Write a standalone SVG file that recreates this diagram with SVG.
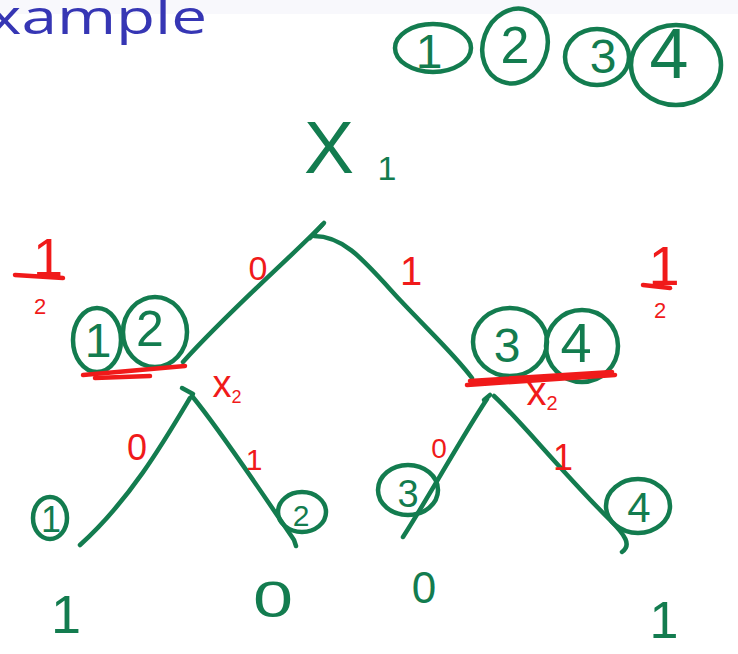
<svg xmlns="http://www.w3.org/2000/svg" width="738" height="654" viewBox="0 0 738 654">
<style>
.g{fill:none;stroke:#137c4f;stroke-width:4.5;stroke-linecap:round;stroke-linejoin:round}
.r{fill:none;stroke:#f01a1a;stroke-width:4.5;stroke-linecap:round}
.gt{fill:#137c4f;font-family:"Liberation Sans",Arial,sans-serif;text-anchor:middle}
.rt{fill:#f01a1a;font-family:"Liberation Sans",Arial,sans-serif;text-anchor:middle}
</style>
<rect width="738" height="654" fill="#ffffff"/>
<rect width="738" height="14" fill="#f8f8fc"/>
<text x="-12" y="34" font-family="'Open Sans',sans-serif" font-size="48" fill="#3636b4" textLength="219" lengthAdjust="spacingAndGlyphs">xample</text>

<g id="legend">
  <ellipse class="g" cx="433" cy="48" rx="38" ry="24"/>
  <text class="gt" x="429" y="68" font-size="48">1</text>
  <ellipse class="g" cx="515" cy="46" rx="32" ry="38" transform="rotate(20 515 46)"/>
  <text class="gt" x="515" y="63" font-size="52">2</text>
  <ellipse class="g" cx="597" cy="57" rx="32" ry="28"/>
  <text class="gt" x="603" y="73" font-size="48">3</text>
  <ellipse class="g" cx="676" cy="65" rx="45" ry="40"/>
  <text class="gt" x="669" y="78" font-size="70">4</text>
</g>

<g id="connectors">
  <path class="g" d="M310,238 L324,223"/>
  <path class="g" d="M322,225 C290,258 230,310 183,362"/>
  <path class="g" d="M314,236 C345,236 365,262 400,300 C430,332 455,355 472,378"/>
  <path class="g" d="M182,388 L193,394"/>
  <path class="g" d="M190,398 C165,440 130,500 80,545"/>
  <path class="g" d="M192,396 C220,430 260,490 294,540 L296,546"/>
  <path class="g" d="M484,400 L490,395"/>
  <path class="g" d="M487,399 C460,440 430,495 403,537"/>
  <path class="g" d="M494,396 C520,420 560,470 610,520 C625,535 632,545 622,552"/>
</g>

<g id="edge-labels">
  <text class="rt" x="258" y="280" font-size="34">0</text>
  <text class="rt" x="411" y="285" font-size="40">1</text>
  <text class="rt" x="137" y="460" font-size="36">0</text>
  <text class="rt" x="254" y="470" font-size="30">1</text>
  <text class="rt" x="439" y="458" font-size="28">0</text>
  <text class="rt" x="563" y="470" font-size="36">1</text>
</g>

<g id="node-root">
  <text class="gt" x="329" y="173" font-size="75">X</text>
  <text class="gt" x="387" y="180" font-size="34">1</text>
</g>

<g id="node-left">
  <text class="rt" x="48" y="276" font-size="54">1</text>
  <path class="r" d="M15,275 L63,278"/>
  <text class="rt" x="40" y="314" font-size="22">2</text>
  <ellipse class="g" cx="97" cy="340" rx="24" ry="32"/>
  <text class="gt" x="98" y="357" font-size="48">1</text>
  <ellipse class="g" cx="155" cy="332" rx="32" ry="35"/>
  <text class="gt" x="150" y="346" font-size="50">2</text>
  <path class="r" d="M83,375 L185,366"/>
  <path class="r" d="M95,378 L150,376"/>
  <text class="rt" x="227" y="397" font-size="38">x<tspan font-size="18" dy="6">2</tspan></text>
</g>

<g id="node-right">
  <text class="rt" x="664" y="285" font-size="56">1</text>
  <path class="r" d="M643,285 L670,288"/>
  <text class="rt" x="660" y="318" font-size="22">2</text>
  <ellipse class="g" cx="510" cy="342" rx="37" ry="34"/>
  <text class="gt" x="507" y="362" font-size="48">3</text>
  <ellipse class="g" cx="582" cy="346" rx="36" ry="36"/>
  <text class="gt" x="576" y="362" font-size="56">4</text>
  <path class="r" d="M467,385 L615,375"/>
  <path class="r" d="M470,381 L612,372"/>
  <text class="rt" x="542" y="405" font-size="40">x<tspan font-size="20" dy="5">2</tspan></text>
</g>

<g id="leaf-1">
  <ellipse class="g" cx="50" cy="518" rx="17" ry="21"/>
  <text class="gt" x="51" y="532" font-size="36">1</text>
  <text class="gt" x="66" y="633" font-size="54">1</text>
</g>
<g id="leaf-2">
  <ellipse class="g" cx="302" cy="512" rx="24" ry="20"/>
  <text class="gt" x="301" y="526" font-size="30">2</text>
  <text class="gt" x="273" y="617" font-size="50" textLength="40" lengthAdjust="spacingAndGlyphs">0</text>
</g>
<g id="leaf-3">
  <ellipse class="g" cx="408" cy="490" rx="30" ry="25"/>
  <text class="gt" x="408" y="507" font-size="38">3</text>
  <text class="gt" x="424" y="603" font-size="44">0</text>
</g>
<g id="leaf-4">
  <ellipse class="g" cx="638" cy="506" rx="32" ry="27"/>
  <text class="gt" x="639" y="522" font-size="42">4</text>
  <text class="gt" x="664" y="638" font-size="52">1</text>
</g>
</svg>
